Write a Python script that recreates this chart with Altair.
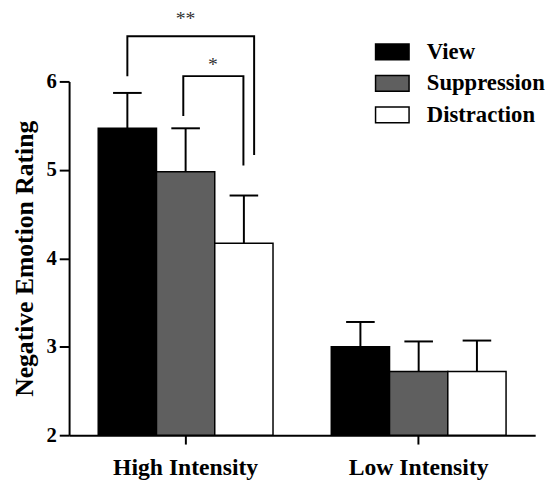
import altair as alt
import pandas as pd

groups = ["High Intensity", "Low Intensity"]
conditions = ["View", "Suppression", "Distraction"]
colors = ["#000000", "#5f5f5f", "#ffffff"]
high_means = [5.47, 4.98, 4.17]
high_errs = [0.40, 0.49, 0.54]
low_means = [3.00, 2.72, 2.72]
low_errs = [0.28, 0.34, 0.35]

# significance brackets (x in group units: group k spans [k, k+1])
br2_x = [0.25, 0.25, 0.794, 0.794]
br2_y = [6.07, 6.51, 6.51, 5.18]
br1_x = [0.49, 0.49, 0.748, 0.748]
br1_y = [5.62, 6.06, 6.06, 5.06]
star_labels = ["**", "*"]
star_x = [0.50, 0.617]
star_y = [6.70, 6.19]

FONT = "Liberation Serif"

rows = []
for g, means, errs in [(groups[0], high_means, high_errs), (groups[1], low_means, low_errs)]:
    for c, m, e in zip(conditions, means, errs):
        rows.append({"group": g, "cond": c, "mean": m, "upper": m + e, "base": 2})
df = pd.DataFrame(rows)

br_rows = []
for bid, xs, ys in [("b2", br2_x, br2_y), ("b1", br1_x, br1_y)]:
    for i, (xv, yv) in enumerate(zip(xs, ys)):
        br_rows.append({"bid": bid, "i": i, "bx": xv, "by": yv})
br_df = pd.DataFrame(br_rows)
star_df = pd.DataFrame({"label": star_labels, "sx": star_x, "sy": star_y})

yscale = alt.Scale(domain=[2, 6], nice=False, zero=False)
xband = alt.Scale(paddingInner=0.25, paddingOuter=0.125)

x_enc = alt.X("group:N", sort=groups, scale=xband,
              axis=alt.Axis(title=None, labelAngle=0, labelFont=FONT, labelFontSize=24,
                            labelFontWeight="bold", labelColor="black", labelPadding=12,
                            tickSize=9, tickWidth=2, tickColor="black",
                            domainColor="black", domainWidth=2))
xoff = alt.XOffset("cond:N", sort=conditions, scale=alt.Scale(paddingInner=0, paddingOuter=0))

bars = alt.Chart(df).mark_bar(stroke="black", strokeWidth=1.5, clip=False).encode(
    x=x_enc,
    xOffset=xoff,
    y=alt.Y("mean:Q", scale=yscale,
            axis=alt.Axis(title="Negative Emotion Rating", values=[2, 3, 4, 5, 6], format="d",
                          titleFont=FONT, titleFontSize=26, titleFontWeight="bold",
                          titleColor="black", titlePadding=9,
                          labelFont=FONT, labelFontSize=21, labelFontWeight="bold",
                          labelColor="black", labelPadding=3,
                          tickSize=10, tickWidth=2, tickColor="black",
                          domainColor="black", domainWidth=2, grid=False)),
    y2=alt.Y2("base:Q"),
    fill=alt.Fill("cond:N", sort=conditions,
                  scale=alt.Scale(domain=conditions, range=colors),
                  legend=alt.Legend(title=None, orient="none", legendX=310, legendY=-48,
                                    symbolType="M-1,-0.47H1V0.47H-1Z", symbolSize=1156,
                                    symbolStrokeColor="black", symbolStrokeWidth=1.5,
                                    symbolOpacity=1,
                                    labelFont=FONT, labelFontSize=23, labelFontWeight="bold",
                                    labelColor="black", labelOffset=17, rowPadding=2,
                                    labelLimit=300, padding=0)),
)

err_rule = alt.Chart(df).mark_rule(color="black", strokeWidth=2).encode(
    x=alt.X("group:N", sort=groups, scale=xband),
    xOffset=xoff,
    y=alt.Y("mean:Q", scale=yscale),
    y2="upper:Q",
)
err_cap = alt.Chart(df).mark_tick(color="black", thickness=2, size=29, opacity=1).encode(
    x=alt.X("group:N", sort=groups, scale=xband),
    xOffset=xoff,
    y=alt.Y("upper:Q", scale=yscale),
)

main = alt.layer(bars, err_rule, err_cap)

xq = alt.Scale(domain=[0, 2], nice=False, zero=False)
brackets = alt.Chart(br_df).mark_line(color="black", strokeWidth=2, clip=False,
                                      strokeCap="square", strokeJoin="miter").encode(
    x=alt.X("bx:Q", scale=xq, axis=None),
    y=alt.Y("by:Q", scale=yscale),
    detail="bid:N",
    order="i:O",
)
stars = alt.Chart(star_df).mark_text(font=FONT, fontSize=20, color="#333333",
                                     baseline="middle", clip=False).encode(
    x=alt.X("sx:Q", scale=xq, axis=None),
    y=alt.Y("sy:Q", scale=yscale),
    text="label:N",
)

chart = alt.layer(main, brackets, stars).resolve_scale(x="independent").properties(
    width=473, height=359,
    autosize=alt.AutoSizeParams(type="none"),
    padding={"left": 62, "top": 71, "right": 13, "bottom": 45},
    background="white",
).configure_view(stroke=None)

chart.save("out.html", embed_options={"renderer": "svg", "actions": False})
